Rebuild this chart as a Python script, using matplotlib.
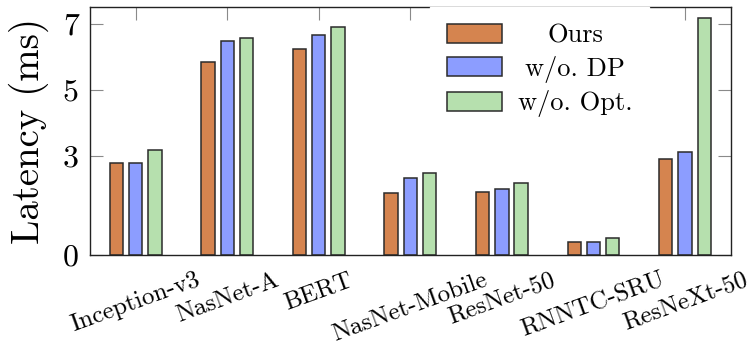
import numpy as np
import matplotlib
matplotlib.use("Agg")
import matplotlib.pyplot as plt

# latency per model (ms)
models = ["Inception-v3", "NasNet-A", "BERT", "NasNet-Mobile",
          "ResNet-50", "RNNTC-SRU", "ResNeXt-50"]
ours = [2.80, 5.85, 6.23, 1.89, 1.91, 0.39, 2.90]
no_dp = [2.80, 6.47, 6.68, 2.32, 1.99, 0.39, 3.11]
no_opt = [3.17, 6.59, 6.92, 2.47, 2.17, 0.50, 7.19]
series_names = ["Ours", "w/o. DP", "w/o. Opt."]
yticks = [0, 3, 5, 7]

colors = ["#D5844F", "#8C9DFF", "#B6E0AE"]

plt.rcParams["font.family"] = "cmr10"
plt.rcParams["axes.formatter.use_mathtext"] = True

fig = plt.figure(figsize=(7.51, 3.55), dpi=100)
ax = fig.add_axes([0.1198, 0.2817, 0.8532, 0.6972])

x = np.arange(len(models))
step = 0.21
width = 0.145
for i, (vals, name) in enumerate(zip([ours, no_dp, no_opt], series_names)):
    ax.bar(x + (i - 1) * step, vals, width, color=colors[i], edgecolor="#2b2b2b",
           linewidth=1.1, label=name, zorder=2)

ax.set_xlim(-0.5, 6.5)
ax.set_ylim(0, 7.5)
ax.set_yticks(yticks)
ax.set_yticklabels([str(t) for t in yticks], fontsize=23)
ax.set_xticks(x)
ax.set_xticklabels(models, rotation=20, ha="center", fontsize=18)
ax.set_axisbelow(True)

ax.tick_params(axis="both", direction="in", length=9.5, width=0.8, color="#8a8a8a",
               top=True, right=True)
ax.tick_params(axis="y", pad=8)
ax.tick_params(axis="x", pad=10)
for s in ax.spines.values():
    s.set_color("#222222")
    s.set_linewidth(1.0)

ax.set_ylabel("Latency (ms)", fontsize=28, labelpad=10)

leg = ax.legend(loc="upper left", bbox_to_anchor=(0.531, 1.0), fontsize=19,
                frameon=True, fancybox=False, borderaxespad=0, handlelength=2.1,
                handleheight=0.72, labelspacing=0.3, handletextpad=0.6,
                borderpad=0.62)
leg.get_frame().set_edgecolor("white")
leg.get_frame().set_facecolor("white")
leg.get_frame().set_alpha(1)

# center the legend entries like pgfplots does
fig.canvas.draw()
r = fig.canvas.get_renderer()
texts = leg.get_texts()
ws = [t.get_window_extent(r).width for t in texts]
for t, w in zip(texts, ws):
    t.set_x((max(ws) - w) / 2)

fig.savefig("out.png", dpi=100)
